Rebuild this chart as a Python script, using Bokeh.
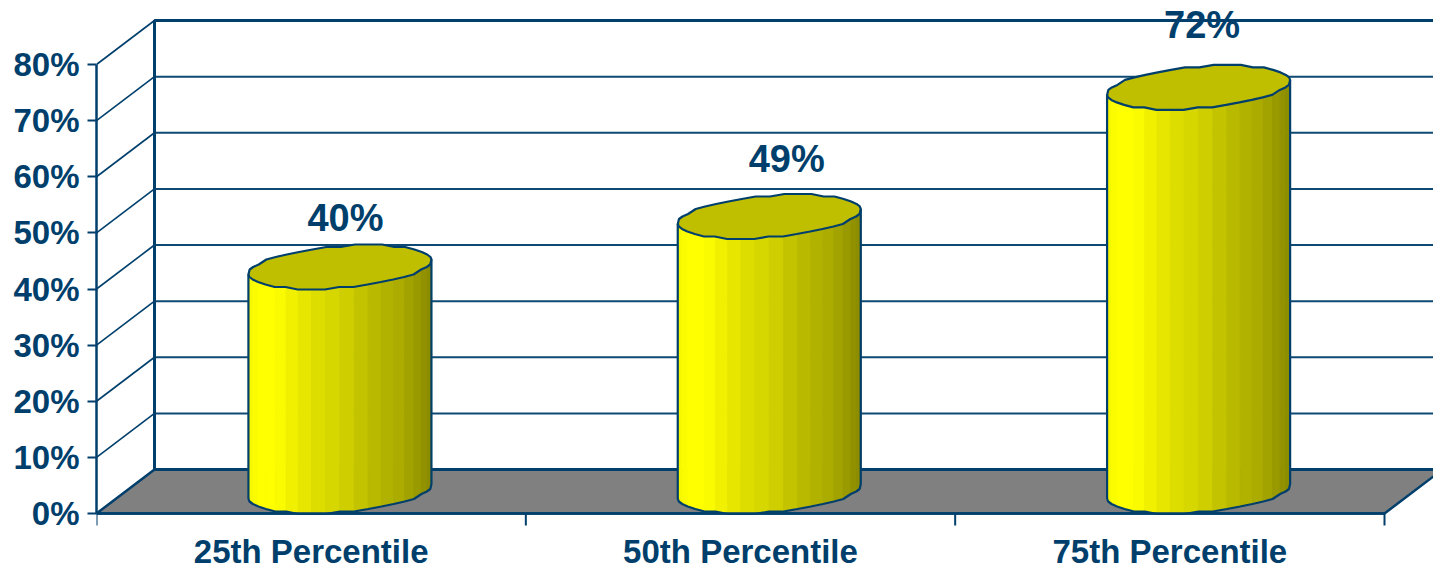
import numpy as np
from bokeh.core.properties import value
from bokeh.embed import file_html
from bokeh.models import ColumnDataSource, FixedTicker, PrintfTickFormatter, Range1d
from bokeh.plotting import figure
from bokeh.resources import INLINE

# Chart data
categories = ["25th Percentile", "50th Percentile", "75th Percentile"]
values = [40, 49, 72]
value_labels = ["40%", "49%", "72%"]
y_ticks = [0, 10, 20, 30, 40, 50, 60, 70, 80]

# Layout: screen pixels per data unit and the size of the 3D depth offset
PX_PER_CAT = 1288 / 3
PX_PER_PCT = 449 / 80
DEPTH_X = 58 / PX_PER_CAT
DEPTH_Y = 44 / PX_PER_PCT
WIDTH, HEIGHT = 1433, 565
AXIS_LEFT, AXIS_BASE = 96, 513
X_END = (WIDTH - AXIS_LEFT) / PX_PER_CAT
Y_TOP = AXIS_BASE / PX_PER_PCT
Y_BOTTOM = -(HEIGHT - AXIS_BASE) / PX_PER_PCT

INK = "#003f6c"
FONT = "Liberation Sans"

# Cylinder cross-section in pixels: a skewed ellipse inside the depth parallelogram
CYL_CENTER = 0.567
ELL_A, ELL_SKEW, ELL_B = 86.8, 29.0, 22.0
FACETS = 20
LABEL_DX = [5.5, 17.5, 3.5]
LABEL_DY = [-49, -57, -62]
CATEGORY_DROP = 38
TICK_LEN = 12

SHADE_POS = [0.0, 0.06, 0.14, 0.35, 0.52, 0.70, 0.85, 1.0]
SHADE_VAL = [0.96, 1.0, 1.0, 0.88, 0.82, 0.72, 0.66, 0.54]

p = figure(
    width=WIDTH, height=HEIGHT, output_backend="svg", toolbar_location=None,
    x_range=Range1d(0, X_END), y_range=Range1d(Y_BOTTOM, Y_TOP),
    x_axis_location=None,
    min_border_left=AXIS_LEFT, min_border_right=0, min_border_top=0, min_border_bottom=0,
    background_fill_color="white", border_fill_color="white",
    outline_line_color=None,
)
p.grid.visible = False

# Floor of the 3D box
p.patch([0, DEPTH_X, 3 + DEPTH_X, 3],
        [0, DEPTH_Y, DEPTH_Y, 0],
        fill_color="#808080", line_color=INK, line_width=2.5)

# Back wall, its gridlines, and the matching lines on the side wall
p.multi_line([[DEPTH_X, X_END] for _ in y_ticks[1:-1]],
             [[v + DEPTH_Y, v + DEPTH_Y] for v in y_ticks[1:-1]],
             line_color=INK, line_width=2, line_alpha=0.95)
p.multi_line([[0, DEPTH_X] for _ in y_ticks[1:]],
             [[v, v + DEPTH_Y] for v in y_ticks[1:]],
             line_color=INK, line_width=1.6)
p.line([DEPTH_X, DEPTH_X, X_END],
       [DEPTH_Y, y_ticks[-1] + DEPTH_Y, y_ticks[-1] + DEPTH_Y],
       line_color=INK, line_width=3)
p.line([DEPTH_X, X_END], [DEPTH_Y, DEPTH_Y], line_color=INK, line_width=3)


def ring(start, stop, count):
    """Facet offsets around the cross-section, snapped to give the chiselled outline."""
    t = np.linspace(start, stop, count)
    dx = ELL_A * np.cos(t) + ELL_SKEW * np.sin(t)
    dy = ELL_B * np.sin(t)
    return dx, np.round(dy / 2.5) * 2.5


# Angles of the silhouette's left and right extremes
t_right = np.arctan2(ELL_SKEW, ELL_A)
t_left = t_right - np.pi

for i, v in enumerate(values):
    cx = i + CYL_CENTER
    base = ELL_B / PX_PER_PCT
    top = v + base

    # Shaded body, built from vertical strips along the front of the cross-section
    dx, dy = ring(t_left, t_right, FACETS + 1)
    xs = cx + dx / PX_PER_CAT
    off = dy / PX_PER_PCT
    strips_x, strips_y, colors = [], [], []
    for k in range(FACETS):
        strips_x.append([xs[k], xs[k + 1], xs[k + 1], xs[k]])
        strips_y.append([base + off[k], base + off[k + 1], top + off[k + 1], top + off[k]])
        mid = ((dx[k] + dx[k + 1]) / 2 - dx[0]) / (dx[-1] - dx[0])
        level = int(round(255 * np.interp(mid, SHADE_POS, SHADE_VAL)))
        colors.append(f"#{level:02x}{level:02x}00")
    p.patches(strips_x, strips_y, fill_color=colors, line_color=colors, line_width=1)

    # Outline of the body
    p.line(list(xs) + [xs[-1]], list(base + off) + [top + off[-1]],
           line_color=INK, line_width=2.2)
    p.line([xs[0], xs[0]], [base + off[0], top + off[0]], line_color=INK, line_width=2.2)

    # Top cap
    cap_dx, cap_dy = ring(0, 2 * np.pi, 2 * FACETS + 1)
    p.patch(cx + cap_dx / PX_PER_CAT, top + cap_dy / PX_PER_PCT,
            fill_color="#bfbf00", line_color=INK, line_width=2.2)

# Value labels above each cylinder
labels = ColumnDataSource(dict(
    x=[i + CYL_CENTER for i in range(len(values))],
    y=[v + ELL_B / PX_PER_PCT for v in values],
    text=value_labels, dx=LABEL_DX, dy=LABEL_DY,
))
p.text(x="x", y="y", text="text", source=labels, x_offset="dx", y_offset="dy",
       text_align="center", text_baseline="alphabetic", text_color=INK,
       text_font=value(FONT), text_font_style="bold", text_font_size="38px")

# Value axis
yax = p.yaxis[0]
yax.ticker = FixedTicker(ticks=y_ticks)
yax.formatter = PrintfTickFormatter(format="%d%%")
yax.bounds = (0, 80)
yax.axis_line_color = INK
yax.axis_line_width = 2.5
yax.major_tick_line_color = INK
yax.major_tick_line_width = 2
yax.major_tick_in = 0
yax.major_tick_out = 9
yax.minor_tick_line_color = None
yax.major_label_standoff = 8
yax.major_label_text_color = INK
yax.major_label_text_font = FONT
yax.major_label_text_font_style = "bold"
yax.major_label_text_font_size = "33px"

# Category baseline with separator ticks and the names between them
p.line([0, len(categories)], [0, 0], line_color=INK, line_width=2.5)
p.segment(x0=list(range(len(categories) + 1)), x1=list(range(len(categories) + 1)),
          y0=0, y1=-TICK_LEN / PX_PER_PCT, line_color=INK, line_width=2)
p.text(x=[i + 0.5 for i in range(len(categories))], y=0, text=categories,
       y_offset=CATEGORY_DROP, text_align="center", text_baseline="alphabetic",
       text_color=INK, text_font=value(FONT), text_font_style="bold",
       text_font_size="33px")

open("out.html", "w").write(file_html(p, INLINE))
